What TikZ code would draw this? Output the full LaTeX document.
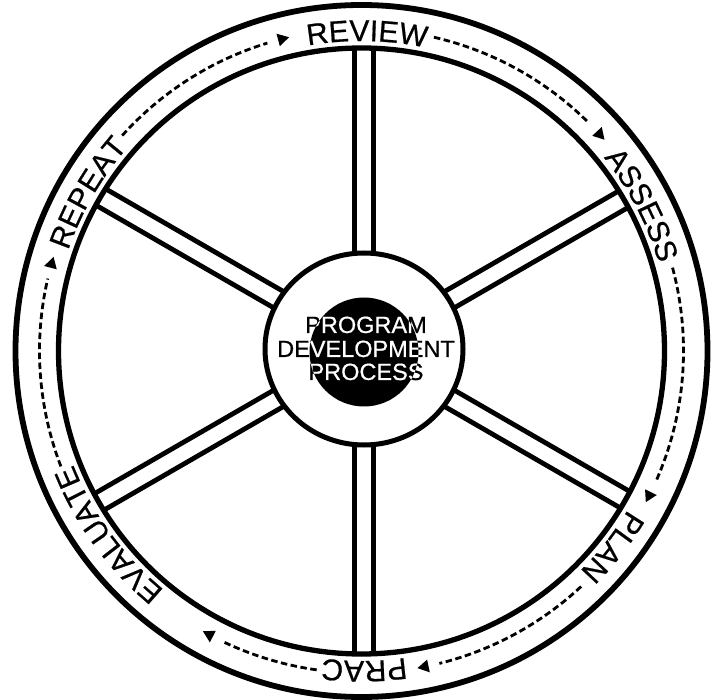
\documentclass[tikz,border=0pt]{standalone}
\usepackage{fontspec}
\setmainfont{Liberation Sans}
\newfontfamily\ringface[FakeBold=0.6]{Liberation Sans}
\usetikzlibrary{decorations.text}
\newcommand\ringfnt{\ringface\fontsize{30}{30}\selectfont}
\newcommand\hubfnt{\ringface\fontsize{23.5}{23.5}\selectfont}
\begin{document}
\begin{tikzpicture}[x=1pt,y=1pt,
  spoke/.style={line width=4.8pt},
  dashring/.style={line width=2.8pt, dash pattern=on 6.5pt off 3.5pt},
  ringlabel/.style={decorate, decoration={text along path, text align=center, text={|\ringfnt|#1}}},
  hubtext/.style={anchor=base, inner sep=0pt, font=\hubfnt},
  outerring/.style={line width=5.8pt},
  innerring/.style={line width=5.3pt},
]
\useasboundingbox (0,0) rectangle (711,699);
\coordinate (c) at (361.5,348);
\coordinate (h) at (364,350);
\coordinate (d) at (364,347);
% spokes
\begin{scope}
\clip (c) circle[radius=303];
\foreach \a in {90,30,-30,-90,150,210} {
  \draw[spoke, shift={(h)}, rotate=\a] (0,9.5) -- (340,9.5) (0,-9.5) -- (340,-9.5);
}
\end{scope}
% rings
\draw[outerring] (c) circle[radius=346];
\draw[innerring] (c) circle[radius=303];
% hub
\draw[line width=5pt, fill=white] (h) ellipse[x radius=99, y radius=96];
\fill (d) circle[radius=54.5];
\node[hubtext] (t1) at (366,366) {PROGRAM};
\node[hubtext] (t2) at (366,342) {DEVELOPMENT};
\node[hubtext] (t3) at (366,319) {PROCESS};
\begin{scope}
\clip (d) circle[radius=54.5];
\node[hubtext, white] (w1) at (366,366) {PROGRAM};
\node[hubtext, white] (w2) at (366,342) {DEVELOPMENT};
\node[hubtext, white] (w3) at (366,319) {PROCESS};
\end{scope}
% ring labels (clockwise)
\begin{scope}[shift={(c)}]
\path[ringlabel=REVIEW] (129:310) arc[start angle=129, end angle=49, radius=310];
\path[ringlabel=ASSESS] (67.5:310) arc[start angle=67.5, end angle=-12.5, radius=310];
\path[ringlabel=PLAN] (2:310) arc[start angle=2, end angle=-78, radius=310];
\path[ringlabel=PRAC] (-49.5:310) arc[start angle=-49.5, end angle=-129.5, radius=310];
\path[ringlabel=EVALUATE] (256:310) arc[start angle=256, end angle=176, radius=310];
\path[ringlabel=REPEAT] (190:310) arc[start angle=190, end angle=110, radius=310];
% dashed connectors
\draw[dashring] (77:322) arc[start angle=77, end angle=45, radius=322];
\draw[dashring] (15:322) arc[start angle=15, end angle=-24, radius=322];
\draw[dashring] (-47:322) arc[start angle=-47, end angle=-76, radius=322];
\draw[dashring] (-98:322) arc[start angle=-98, end angle=-115.5, radius=322];
\draw[dashring] (201:322) arc[start angle=201, end angle=167, radius=322];
\draw[dashring] (138:322) arc[start angle=138, end angle=107, radius=322];
% arrowheads
\foreach \a in {104,42,-27,-79,-118.5,164} {
  \fill (\a-1:322) -- (\a+1:315.5) -- (\a+1:328.5) -- cycle;
}
\end{scope}
\end{tikzpicture}
\end{document}
